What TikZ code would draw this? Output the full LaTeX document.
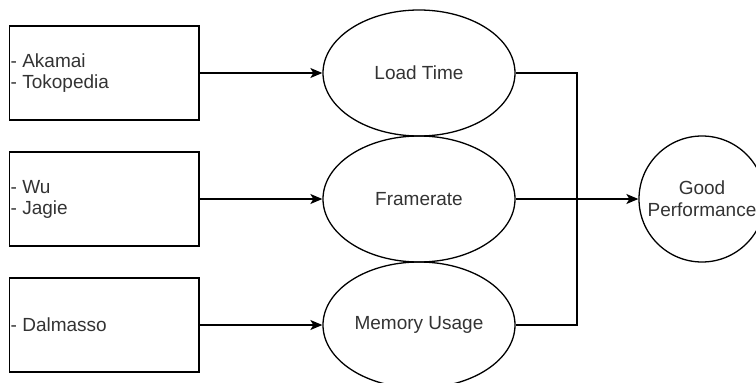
\documentclass[tikz,border=0pt]{standalone}
\usepackage{fontspec}
\setmainfont{Liberation Sans}
\usetikzlibrary{arrows.meta,shapes.geometric}
\definecolor{txt}{RGB}{51,51,51}
\begin{document}
\begin{tikzpicture}[x=1pt,y=-1pt,
  box/.style={draw,line width=1.3pt,minimum width=189.5pt,minimum height=94pt,inner sep=0pt},
  oval/.style={draw,line width=1.3pt,ellipse,minimum width=192pt,minimum height=126pt,inner sep=0pt,
     font=\fontsize{19pt}{22pt}\selectfont,text=txt},
  lbl/.style={anchor=west,align=left,inner sep=0pt,font=\fontsize{19pt}{21pt}\selectfont,text=txt},
  conn/.style={line width=1.3pt},
  arr/.style={conn,-{Stealth[length=12pt,width=10pt,inset=3pt]}}]
\useasboundingbox (0,0) rectangle (756,383);
\clip (0,0) rectangle (756,383);
\node[box] (b1) at (104.25,73) {};
\node[box] (b2) at (104.25,199) {};
\node[box] (b3) at (104.25,325) {};
\node[lbl] (t1) at (10.5,73) {- Akamai\\- Tokopedia};
\node[lbl] (t2) at (10.5,199) {- Wu\\- Jagie};
\node[lbl] (t4) at (10.5,325) {- Dalmasso};
\node[oval] (lt) at (419,73) {Load Time};
\node[oval] (fr) at (419,199) {Framerate};
\node[oval] (mu) at (419,325) {Memory Usage};
\node[draw,line width=1.3pt,circle,minimum size=126pt,inner sep=0pt,align=center,
  font=\fontsize{19pt}{22pt}\selectfont,text=txt] (gp) at (702,199) {Good\\Performance};
\coordinate (jx) at (577,199);
\draw[arr] (b1.east) -- (lt.west);
\draw[arr] (b2.east) -- (fr.west);
\draw[arr] (b3.east) -- (mu.west);
\draw[conn] (lt.east) -| (jx);
\draw[conn] (mu.east) -| (jx);
\draw[arr] (fr.east) -- (gp.west);
\end{tikzpicture}
\end{document}
